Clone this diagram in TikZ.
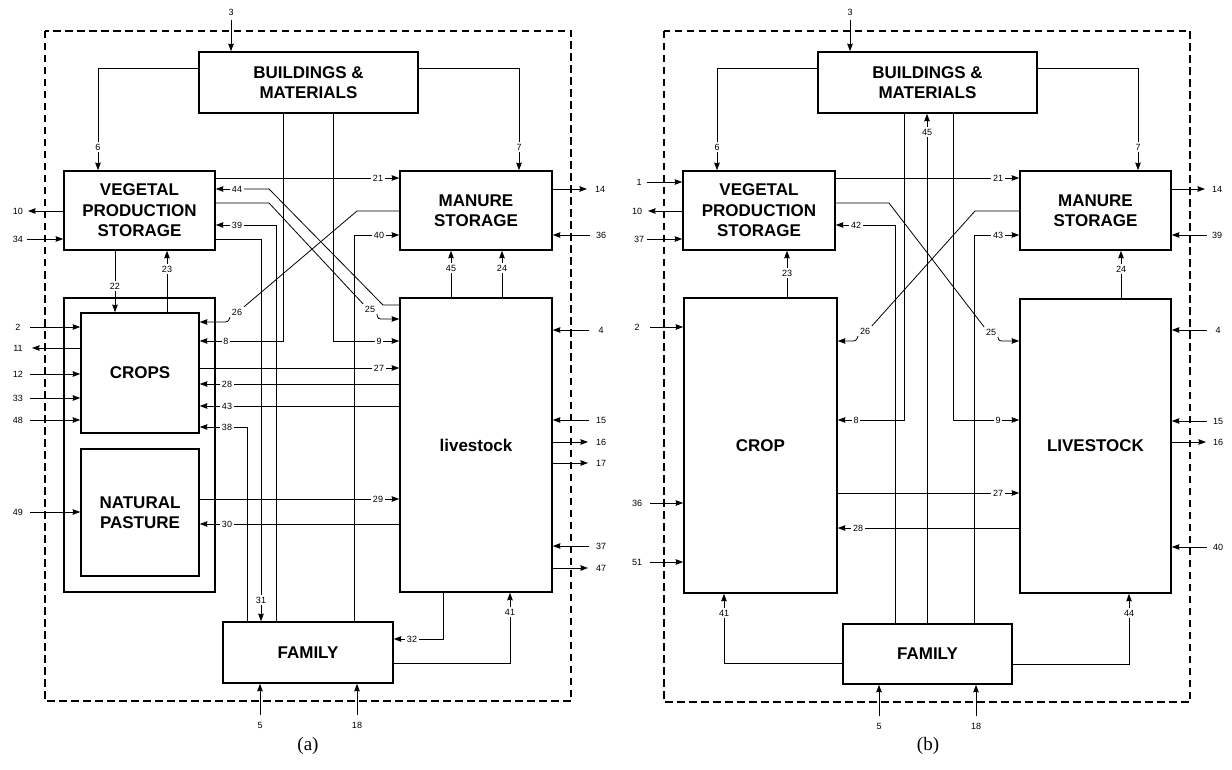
\documentclass[tikz,border=0pt]{standalone}
\usepackage{fontspec}
\setmainfont{Liberation Serif}
\setsansfont{Liberation Sans}
\usetikzlibrary{arrows.meta}
\newcommand\blkfont{\sffamily\bfseries\fontsize{17}{20.5}\selectfont}
\newcommand\nrfont{\sffamily\fontsize{9}{10}\selectfont}
\tikzset{
  box/.style={draw, line width=1.6pt, align=center, font=\blkfont, inner sep=0pt},
  num/.style={font=\nrfont, inner sep=1.5pt},
  arr/.style={-{Stealth[length=7.5pt,width=5.5pt,inset=0.5pt]}},
  bound/.style={line width=1.5pt, dash pattern=on 7.5pt off 4.5pt},
  subcap/.style={font=\rmfamily\fontsize{19}{19}\selectfont}
}
\begin{document}
\begin{tikzpicture}[x=1pt,y=-1pt,line width=0.8pt]
\useasboundingbox (0,0) rectangle (1232,770);
% ---------- (a) ----------
\draw[bound] (45,31) rectangle (571,701);
\node[box, minimum width=219pt, minimum height=61pt] (bldA) at (308.5,82.5) {BUILDINGS \&\\MATERIALS};
\node[box, minimum width=151pt, minimum height=79pt] (vpsA) at (139.5,210.5) {VEGETAL\\PRODUCTION\\STORAGE};
\node[box, minimum width=152pt, minimum height=79pt] (manA) at (476,210.5) {MANURE\\STORAGE};
\node[box, minimum width=151pt, minimum height=294pt] (landA) at (139.5,445) {};
\node[box, minimum width=118pt, minimum height=120pt] (cropsA) at (140,373) {CROPS};
\node[box, minimum width=118pt, minimum height=127pt] (npA) at (140,512.5) {NATURAL\\PASTURE};
\node[box, minimum width=152pt, minimum height=294pt] (livA) at (476,445) {livestock};
\node[box, minimum width=170pt, minimum height=61pt] (famA) at (308,652.5) {FAMILY};
\node[subcap] (capA) at (308,746) {(a)};
% flow labels
\node[num] (a3) at (231,12) {3};
\node[num] (a6) at (98,147) {6};
\node[num] (a7) at (519,147) {7};
\node[num] (a21) at (378,178) {21};
\node[num] (a44) at (237,189) {44};
\node[num] (a39) at (237,225) {39};
\node[num] (a40) at (379,235) {40};
\node[num] (a23) at (167,269) {23};
\node[num] (a22) at (115,286) {22};
\node[num] (a45) at (451,268) {45};
\node[num] (a24) at (502,268) {24};
\node[num] (a25) at (370,309) {25};
\node[num] (a26) at (237,312) {26};
\node[num] (a8) at (226,341) {8};
\node[num] (a9) at (379,341) {9};
\node[num] (a27) at (379,368) {27};
\node[num] (a28) at (227,384) {28};
\node[num] (a43) at (227,406) {43};
\node[num] (a38) at (227,427) {38};
\node[num] (a29) at (378,499) {29};
\node[num] (a30) at (227,524) {30};
\node[num] (a31) at (261,600) {31};
\node[num] (a41) at (510,612) {41};
\node[num] (a32) at (412,639) {32};
\node[num] (a5) at (260,725) {5};
\node[num] (a18) at (357,725) {18};
% inside flows
\draw[arr] ([yshift=-8pt]a3.center) -- (a3|-bldA.north);
\draw (bldA.west|-0,68) -| (a6); \draw[arr] (a6) -- (a6|-vpsA.north);
\draw (bldA.east|-0,68) -| (a7); \draw[arr] (a7) -- (a7|-manA.north);
\draw (vpsA.east|-a21) -- (a21); \draw[arr] (a21) -- (manA.west|-a21);
\draw (livA.west|-0,305) -- (383,305) -- (269,189) -- (a44); \draw[arr] (a44) -- (vpsA.east|-a44);
\draw (vpsA.east|-0,203) -- (269,203) -- (a25.north west);
\draw[arr] (a25.south east) .. controls (378,319) .. (384,319) -- (livA.west|-0,319);
\draw (famA.north-|276,0) |- (a39); \draw[arr] (a39) -- (vpsA.east|-a39);
\draw (vpsA.east|-0,239) -| (a31); \draw[arr] (a31) -- (a31|-famA.north);
\draw (famA.north-|354,0) |- (a40); \draw[arr] (a40) -- (manA.west|-a40);
\draw (vpsA.south-|a22) -- (a22); \draw[arr] (a22) -- (a22|-cropsA.north);
\draw (cropsA.north-|a23) -- (a23); \draw[arr] (a23) -- (a23|-vpsA.south);
\draw (livA.north-|a45) -- (a45); \draw[arr] (a45) -- (a45|-manA.south);
\draw (livA.north-|a24) -- (a24); \draw[arr] (a24) -- (a24|-manA.south);
\draw (manA.west|-0,211) -- (357,211) -- (a26.north east);
\draw[arr] (a26.south west) .. controls (228,322) .. (222,322) -- (cropsA.east|-0,322);
\draw (bldA.south-|283,0) |- (a8); \draw[arr] (a8) -- (cropsA.east|-a8);
\draw (bldA.south-|333,0) |- (a9); \draw[arr] (a9) -- (livA.west|-a9);
\draw (cropsA.east|-a27) -- (a27); \draw[arr] (a27) -- (livA.west|-a27);
\draw (livA.west|-a28) -- (a28); \draw[arr] (a28) -- (cropsA.east|-a28);
\draw (livA.west|-a43) -- (a43); \draw[arr] (a43) -- (cropsA.east|-a43);
\draw (famA.north-|247,0) |- (a38); \draw[arr] (a38) -- (cropsA.east|-a38);
\draw (npA.east|-a29) -- (a29); \draw[arr] (a29) -- (livA.west|-a29);
\draw (livA.west|-a30) -- (a30); \draw[arr] (a30) -- (npA.east|-a30);
\draw (livA.south-|443,0) |- (a32); \draw[arr] (a32) -- (famA.east|-a32);
\draw (famA.east|-0,663) -| (a41); \draw[arr] (a41) -- (a41|-livA.south);
\draw[arr] ([yshift=10pt]a5.center) -- (a5|-famA.south);
\draw[arr] ([yshift=10pt]a18.center) -- (a18|-famA.south);
% outside flows
\node[num] (a10) at (18,211) {10};
\draw[arr] (vpsA.west|-a10) -- ([xshift=10pt]a10.center);
\node[num] (a34) at (18,239) {34};
\draw[arr] ([xshift=9pt]a34.center) -- (vpsA.west|-a34);
\foreach \n/\y in {2/327,12/374,33/398,48/420}{
  \node[num] (a\n) at (18,\y) {\n};
  \draw[arr] ([xshift=12pt]a\n.center) -- (cropsA.west|-a\n);
}
\node[num] (a11) at (18,348) {11};
\draw[arr] (cropsA.west|-a11) -- ([xshift=14pt]a11.center);
\node[num] (a49) at (18,512) {49};
\draw[arr] ([xshift=12pt]a49.center) -- (npA.west|-a49);
\node[num] (a14) at (600,189) {14};
\draw[arr] (manA.east|-a14) -- ([xshift=-13pt]a14.center);
\node[num] (a36) at (601,235) {36};
\draw[arr] ([xshift=-11pt]a36.center) -- (manA.east|-a36);
\foreach \n/\y in {4/330,15/420,37/546}{
  \node[num] (a\n) at (601,\y) {\n};
  \draw[arr] ([xshift=-12pt]a\n.center) -- (livA.east|-a\n);
}
\foreach \n/\y in {16/442,17/463,47/568}{
  \node[num] (a\n) at (601,\y) {\n};
  \draw[arr] (livA.east|-a\n) -- ([xshift=-13pt]a\n.center);
}
% ---------- (b) ----------
\draw[bound] (664,31) rectangle (1190,702);
\node[box, minimum width=219pt, minimum height=61pt] (bldB) at (927.5,82.5) {BUILDINGS \&\\MATERIALS};
\node[box, minimum width=152pt, minimum height=79pt] (vpsB) at (759,210.5) {VEGETAL\\PRODUCTION\\STORAGE};
\node[box, minimum width=151pt, minimum height=79pt] (manB) at (1095.5,210.5) {MANURE\\STORAGE};
\node[box, minimum width=153pt, minimum height=295pt] (cropB) at (760.5,445.5) {CROP};
\node[box, minimum width=151pt, minimum height=294pt] (livB) at (1095.5,446) {LIVESTOCK};
\node[box, minimum width=169pt, minimum height=60pt] (famB) at (927.5,654) {FAMILY};
\node[subcap] (capB) at (928,746) {(b)};
% flow labels
\node[num] (b3) at (850,12) {3};
\node[num] (b6) at (717,147) {6};
\node[num] (b7) at (1138,147) {7};
\node[num] (b45) at (927,132) {45};
\node[num] (b21) at (998,178) {21};
\node[num] (b42) at (856,225) {42};
\node[num] (b43) at (998,235) {43};
\node[num] (b23) at (787,273) {23};
\node[num] (b24) at (1121,269) {24};
\node[num] (b26) at (865,331) {26};
\node[num] (b25) at (991,332) {25};
\node[num] (b8) at (856,420) {8};
\node[num] (b9) at (998,420) {9};
\node[num] (b27) at (998,493) {27};
\node[num] (b28) at (858,528) {28};
\node[num] (b41) at (724,613) {41};
\node[num] (b44) at (1129,613) {44};
\node[num] (b5) at (879,726) {5};
\node[num] (b18) at (976,726) {18};
% inside flows
\draw[arr] ([yshift=-8pt]b3.center) -- (b3|-bldB.north);
\draw (bldB.west|-0,68) -| (b6); \draw[arr] (b6) -- (b6|-vpsB.north);
\draw (bldB.east|-0,68) -| (b7); \draw[arr] (b7) -- (b7|-manB.north);
\draw (vpsB.east|-b21) -- (b21); \draw[arr] (b21) -- (manB.west|-b21);
\draw (vpsB.east|-0,203) -- (889,203) -- (b25.north west);
\draw[arr] (b25.south east) .. controls (999,341) .. (1005,341) -- (livB.west|-0,341);
\draw (famB.north-|895,0) |- (b42); \draw[arr] (b42) -- (vpsB.east|-b42);
\draw (cropB.north-|b23) -- (b23); \draw[arr] (b23) -- (b23|-vpsB.south);
\draw (famB.north-|b45) -- (b45); \draw[arr] (b45) -- (b45|-bldB.south);
\draw (bldB.south-|904,0) |- (b8); \draw[arr] (b8) -- (cropB.east|-b8);
\draw (bldB.south-|953,0) |- (b9); \draw[arr] (b9) -- (livB.west|-b9);
\draw (famB.north-|974,0) |- (b43); \draw[arr] (b43) -- (manB.west|-b43);
\draw (livB.north-|b24) -- (b24); \draw[arr] (b24) -- (b24|-manB.south);
\draw (manB.west|-0,211) -- (975,211) -- (b26.north east);
\draw[arr] (b26.south west) .. controls (856,341) .. (850,341) -- (cropB.east|-0,341);
\draw (cropB.east|-b27) -- (b27); \draw[arr] (b27) -- (livB.west|-b27);
\draw (livB.west|-b28) -- (b28); \draw[arr] (b28) -- (cropB.east|-b28);
\draw (famB.west|-0,663) -| (b41); \draw[arr] (b41) -- (b41|-cropB.south);
\draw (famB.east|-0,664) -| (b44); \draw[arr] (b44) -- (b44|-livB.south);
\draw[arr] ([yshift=10pt]b5.center) -- (b5|-famB.south);
\draw[arr] ([yshift=10pt]b18.center) -- (b18|-famB.south);
% outside flows
\foreach \n/\y in {1/182,37/239}{
  \node[num] (b\n) at (639,\y) {\n};
  \draw[arr] ([xshift=8pt]b\n.center) -- (vpsB.west|-b\n);
}
\node[num] (b10) at (637,211) {10};
\draw[arr] (vpsB.west|-b10) -- ([xshift=11pt]b10.center);
\foreach \n/\y in {2/327,36/503,51/562}{
  \node[num] (b\n) at (637,\y) {\n};
  \draw[arr] ([xshift=13pt]b\n.center) -- (cropB.west|-b\n);
}
\node[num] (b14) at (1217,189) {14};
\draw[arr] (manB.east|-b14) -- ([xshift=-12pt]b14.center);
\node[num] (b39) at (1217,235) {39};
\draw[arr] ([xshift=-10pt]b39.center) -- (manB.east|-b39);
\foreach \n/\y in {4/330,15/421,40/547}{
  \node[num] (b\n) at (1218,\y) {\n};
  \draw[arr] ([xshift=-11pt]b\n.center) -- (livB.east|-b\n);
}
\node[num] (b16) at (1218,442) {16};
\draw[arr] (livB.east|-b16) -- ([xshift=-12pt]b16.center);
\end{tikzpicture}
\end{document}
